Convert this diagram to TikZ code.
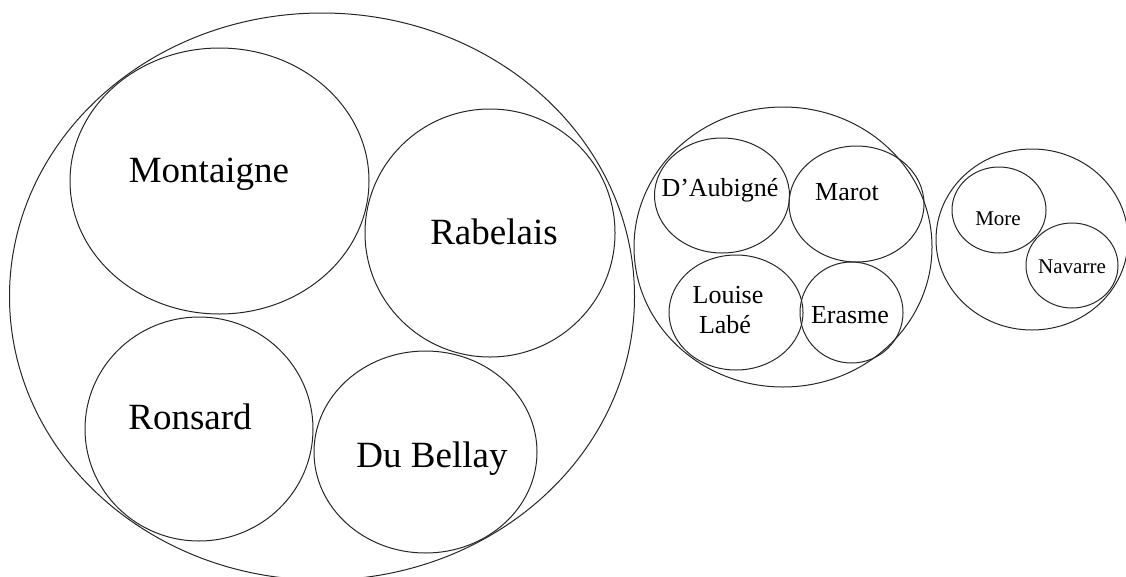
\documentclass[tikz,border=0pt]{standalone}
\usepackage{fontspec}
\setmainfont{Liberation Serif}
\begin{document}
\begin{tikzpicture}[x=1pt,y=-1pt,
  ring/.style={draw=black!85,line width=1pt},
  big/.style={font=\fontsize{37}{40}\selectfont,anchor=base,inner sep=0pt},
  mid/.style={font=\fontsize{26}{28}\selectfont,anchor=base,inner sep=0pt},
  small/.style={font=\fontsize{21}{24}\selectfont,anchor=base,inner sep=0pt}]
\useasboundingbox (0,0) rectangle (1126,576);
% left group
\draw[ring] (322,296.5) ellipse [x radius=312.5pt, y radius=283.5pt];
\draw[ring] (219.5,181) ellipse [x radius=149.5pt, y radius=133pt];
\draw[ring] (490,233) ellipse [x radius=125pt, y radius=124pt];
\draw[ring] (199,429) ellipse [x radius=114pt, y radius=112pt];
\draw[ring] (425.5,452) ellipse [x radius=111.5pt, y radius=101pt];
\node[big] (montaigne) at (209,182) {Montaigne};
\node[big] (rabelais) at (494,244) {Rabelais};
\node[big] (ronsard) at (190,429) {Ronsard};
\node[big] (dubellay) at (432,467) {Du Bellay};
% middle group
\draw[ring] (783,247) ellipse [x radius=149pt, y radius=140pt];
\draw[ring] (722,195.5) ellipse [x radius=67.5pt, y radius=57.5pt];
\draw[ring] (856.5,204) ellipse [x radius=67.5pt, y radius=58pt];
\draw[ring] (736,312.5) ellipse [x radius=67pt, y radius=57.5pt];
\draw[ring] (851.5,312.5) ellipse [x radius=51.5pt, y radius=50.5pt];
\node[mid] (daubigne) at (720,196) {D’Aubigné};
\node[mid] (marot) at (847,200) {Marot};
\node[mid] (louise) at (728,303) {Louise};
\node[mid] (labe) at (725,333) {Labé};
\node[mid] (erasme) at (850,323) {Erasme};
% right group
\draw[ring] (1032,239.5) ellipse [x radius=96pt, y radius=90.5pt];
\draw[ring] (999,210) ellipse [x radius=47pt, y radius=43pt];
\draw[ring] (1072,265.5) ellipse [x radius=46pt, y radius=42.5pt];
\node[small] (more) at (998,225) {More};
\node[small] (navarre) at (1072,273) {Navarre};
\end{tikzpicture}
\end{document}
